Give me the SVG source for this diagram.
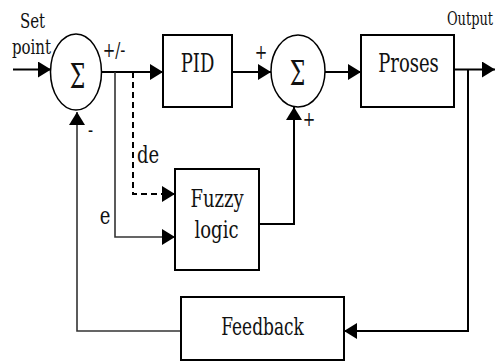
<svg xmlns="http://www.w3.org/2000/svg" width="496" height="362" viewBox="0 0 496 362">
<defs>
<marker id="ah" markerWidth="13" markerHeight="16" refX="13" refY="8" orient="auto" markerUnits="userSpaceOnUse">
<path d="M0,0 L13,8 L0,16 Z" fill="#000"/>
</marker>
<style>
.box{fill:#fff;stroke:#000;stroke-width:2}
.sum{fill:#fff;stroke:#000;stroke-width:1.5}
.ln{fill:none;stroke:#000;stroke-width:2}
.ln2{fill:none;stroke:#333;stroke-width:1.6}
.dash{fill:none;stroke:#000;stroke-width:2;stroke-dasharray:6,4}
.t{font-family:'DejaVu Serif',serif;fill:#111;text-anchor:middle}
.big{font-size:18px}
.sm{font-size:15px}
.sig{font-size:22px}
</style>
</defs>
<rect width="496" height="362" fill="#fff"/>
<g id="connectors">
<line class="ln" x1="13" y1="69.5" x2="51" y2="69.5" marker-end="url(#ah)"/>
<line class="ln" x1="102" y1="72" x2="163" y2="72" marker-end="url(#ah)"/>
<line class="ln" x1="232" y1="72" x2="271" y2="72" marker-end="url(#ah)"/>
<line class="ln" x1="325" y1="72" x2="361" y2="72" marker-end="url(#ah)"/>
<line class="ln" x1="454" y1="69.5" x2="495" y2="69.5" marker-end="url(#ah)"/>
<polyline class="ln" points="468,69.5 468,331 344,331" marker-end="url(#ah)"/>
<polyline class="ln2" points="181,331 77,331 77,112" marker-end="url(#ah)"/>
<polyline class="ln2" points="115,72 115,237 175,237" marker-end="url(#ah)"/>
<polyline class="dash" points="133,72 133,194 175,194" marker-end="url(#ah)"/>
<polyline class="ln" points="259,224 294,224 294,107" marker-end="url(#ah)"/>
</g>
<g id="sum1">
<ellipse class="sum" cx="76" cy="72" rx="25.5" ry="38"/>
<text class="t sig" transform="translate(77.5,88) scale(1,1.5)">Σ</text>
</g>
<g id="pid">
<rect class="box" x="163" y="35" width="69" height="72"/>
<text class="t big" transform="translate(197.5,72) scale(1,1.4)">PID</text>
</g>
<g id="sum2">
<ellipse class="sum" cx="298" cy="71" rx="27" ry="36"/>
<text class="t sig" transform="translate(297.5,85) scale(1,1.5)">Σ</text>
</g>
<g id="proses">
<rect class="box" x="361" y="35" width="93" height="72"/>
<text class="t big" transform="translate(408.5,72) scale(1,1.4)">Proses</text>
</g>
<g id="fuzzy">
<rect class="box" x="175" y="169" width="84" height="101"/>
<text class="t big" transform="translate(217,207) scale(1,1.35)">Fuzzy</text>
<text class="t big" transform="translate(216.5,238) scale(1,1.35)">logic</text>
</g>
<g id="feedback">
<rect class="box" x="181" y="297" width="163" height="63"/>
<text class="t" style="font-size:17px" transform="translate(262.5,335) scale(1,1.45)">Feedback</text>
</g>
<g id="labels">
<text class="t sm" transform="translate(32.5,28) scale(1,1.35)">Set</text>
<text class="t sm" transform="translate(31.5,54) scale(1,1.35)">point</text>
<text class="t sm" transform="translate(114,57) scale(1,1.35)">+/-</text>
<text class="t sm" transform="translate(90.5,137) scale(1,1.35)">-</text>
<text class="t sm" transform="translate(261,59) scale(1,1.35)">+</text>
<text class="t sm" transform="translate(309,126) scale(1,1.35)">+</text>
<text class="t big" transform="translate(148,163) scale(1,1.3)">de</text>
<text class="t big" transform="translate(105,224) scale(1,1.3)">e</text>
<text class="t" style="font-size:13px" transform="translate(470,25) scale(1,1.45)">Output</text>
</g>
</svg>
